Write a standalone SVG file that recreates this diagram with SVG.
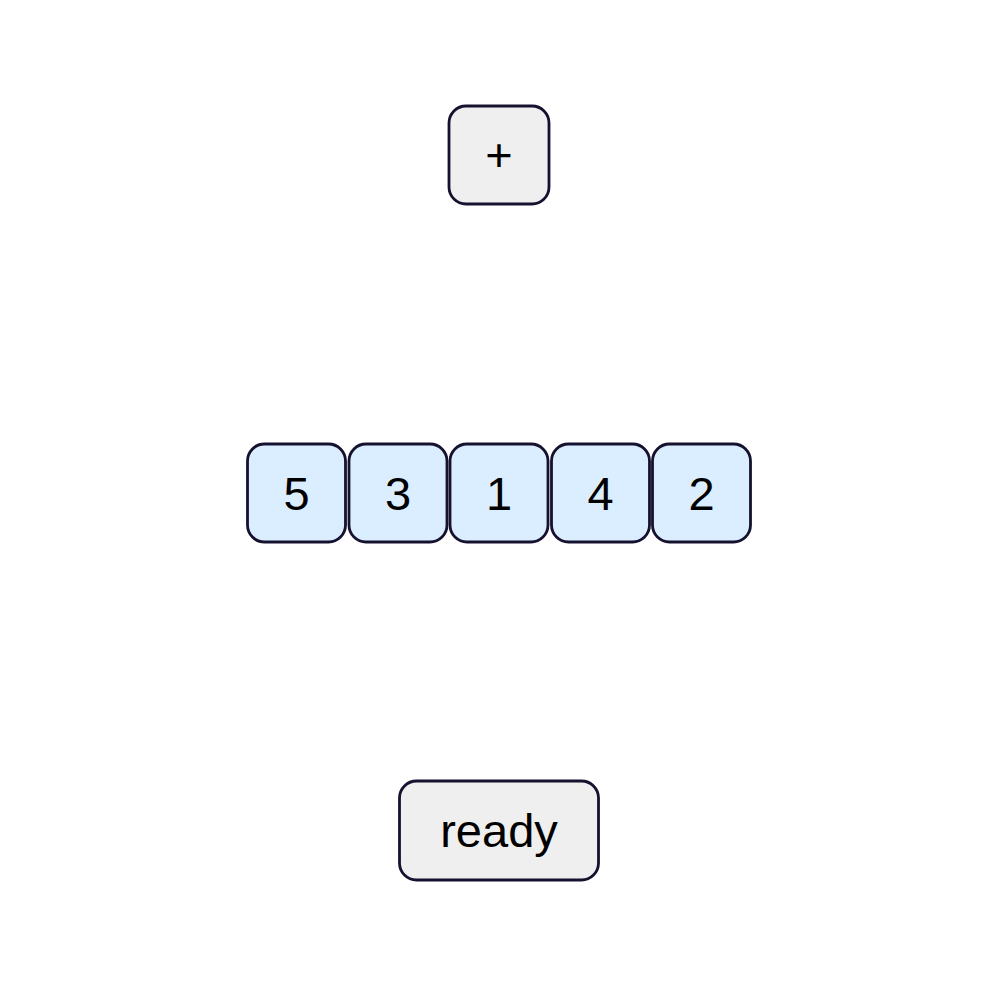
<svg xmlns="http://www.w3.org/2000/svg" width="998" height="998" viewBox="0 0 998 998">
<style>
.box{stroke:#16112f;stroke-width:2.8}
.op{fill:#efefef}
.cell{fill:#dbeeff}
.t{font-family:"Liberation Sans",Arial,sans-serif;font-size:47px;fill:#000;text-anchor:middle}
</style>
<rect width="998" height="998" fill="#ffffff"/>
<g id="connectors"></g>
<g id="op-plus"><rect class="box op" x="449" y="106" width="100" height="98" rx="17"/><text class="t" x="499" y="171">+</text></g>
<g id="cell-5"><rect class="box cell" x="247.5" y="444" width="98" height="98" rx="17"/><text class="t" x="296.5" y="510">5</text></g>
<g id="cell-3"><rect class="box cell" x="349" y="444" width="98" height="98" rx="17"/><text class="t" x="398" y="510">3</text></g>
<g id="cell-1"><rect class="box cell" x="450" y="444" width="98" height="98" rx="17"/><text class="t" x="499" y="510">1</text></g>
<g id="cell-4"><rect class="box cell" x="551.5" y="444" width="98" height="98" rx="17"/><text class="t" x="600.5" y="510">4</text></g>
<g id="cell-2"><rect class="box cell" x="652.5" y="444" width="98" height="98" rx="17"/><text class="t" x="701.5" y="510">2</text></g>
<g id="status-ready"><rect class="box op" x="399.5" y="781" width="199" height="99" rx="17"/><text class="t" x="499" y="847">ready</text></g>
</svg>
